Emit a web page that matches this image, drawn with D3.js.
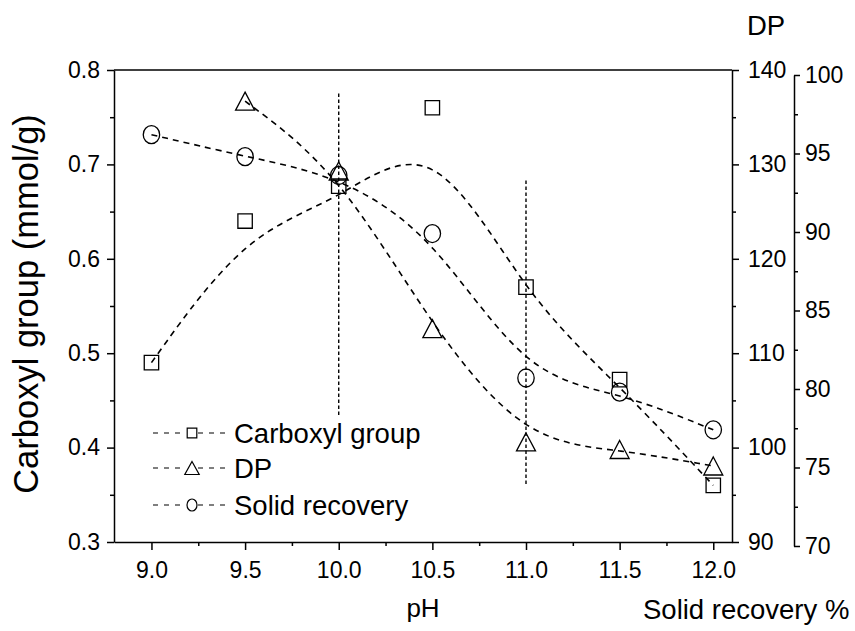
<!DOCTYPE html>
<html>
<head>
<meta charset="utf-8">
<script src="https://cdn.jsdelivr.net/npm/d3@7"></script>
<style>
  body { margin: 0; background: #fff; }
  text { font-family: "Liberation Sans", Arial, sans-serif; fill: #000; }
</style>
</head>
<body>
<div id="chart"></div>
<script>
// data
const pH = [9.0, 9.5, 10.0, 10.5, 11.0, 11.5, 12.0];
const carboxyl = [0.49, 0.64, 0.677, 0.76, 0.57, 0.472, 0.36];   // mmol/g, left axis
const dpPH = [9.5, 10.0, 10.5, 11.0, 11.5, 12.0];
const dp = [136.7, 129.3, 112.6, 100.6, 99.8, 98.05];            // DP, first right axis
const solidRecovery = [96.2, 94.8, 93.6, 89.9, 80.7, 79.8, 77.4]; // %, second right axis

// vertical dashed guide lines (in carboxyl units)
const guideX = [10.0, 11.0];
const guideTop = [0.775, 0.683];
const guideBottom = [0.432, 0.359];

const phTicks = [9.0, 9.5, 10.0, 10.5, 11.0, 11.5, 12.0];
const phMinor = [9.25, 9.75, 10.25, 10.75, 11.25, 11.75];
const carboxylTicks = [0.3, 0.4, 0.5, 0.6, 0.7, 0.8];
const carboxylMinor = [0.35, 0.45, 0.55, 0.65, 0.75];
const dpTicks = [90, 100, 110, 120, 130, 140];
const dpMinor = [95, 105, 115, 125, 135];
const srTicks = [70, 75, 80, 85, 90, 95, 100];
const srMinor = [72.5, 77.5, 82.5, 87.5, 92.5, 97.5];

const legendItems = ["Carboxyl group", "DP", "Solid recovery"];

const width = 855, height = 631;
const plotLeft = 114, plotRight = 732, plotTop = 70, plotBottom = 542;

const svg = d3.select("#chart").append("svg")
    .attr("width", width)
    .attr("height", height);

// scales
const x = d3.scaleLinear().domain([8.8, 12.1]).range([plotLeft, plotRight]);
const yC = d3.scaleLinear().domain([0.3, 0.8]).range([plotBottom, plotTop]);
const yDP = d3.scaleLinear().domain([90, 140]).range([plotBottom, plotTop]);
const ySR = d3.scaleLinear().domain([70, 100]).range([546, 75]);

function styleAxis(g, fs) {
  g.selectAll("path").attr("stroke", "#000").attr("stroke-width", 1.5);
  g.selectAll("line").attr("stroke", "#000").attr("stroke-width", 1.5);
  g.selectAll("text").attr("font-size", fs + "px")
    .attr("font-family", "'Liberation Sans', Arial, sans-serif");
}

// bottom axis
svg.append("g").attr("transform", `translate(0,${plotBottom})`)
  .call(d3.axisBottom(x).tickValues(phTicks).tickFormat(d3.format(".1f"))
        .tickSizeInner(8).tickSizeOuter(0).tickPadding(12))
  .call(g => styleAxis(g, 23));
svg.append("g").attr("transform", `translate(0,${plotBottom})`)
  .call(d3.axisBottom(x).tickValues(phMinor).tickFormat("").tickSize(4))
  .call(g => g.select(".domain").remove())
  .call(g => styleAxis(g, 23));

// top frame line
svg.append("line")
  .attr("x1", plotLeft).attr("x2", plotRight).attr("y1", plotTop).attr("y2", plotTop)
  .attr("stroke", "#000").attr("stroke-width", 1.5);

// left axis
svg.append("g").attr("transform", `translate(${plotLeft},0)`)
  .call(d3.axisLeft(yC).tickValues(carboxylTicks).tickFormat(d3.format(".1f"))
        .tickSizeInner(7).tickSizeOuter(0).tickPadding(7))
  .call(g => styleAxis(g, 23));
svg.append("g").attr("transform", `translate(${plotLeft},0)`)
  .call(d3.axisLeft(yC).tickValues(carboxylMinor).tickFormat("").tickSize(4))
  .call(g => g.select(".domain").remove())
  .call(g => styleAxis(g, 23));

// DP axis
svg.append("g").attr("transform", `translate(${plotRight},0)`)
  .call(d3.axisRight(yDP).tickValues(dpTicks).tickFormat(d3.format("d"))
        .tickSizeInner(7).tickSizeOuter(0).tickPadding(9))
  .call(g => styleAxis(g, 23));
svg.append("g").attr("transform", `translate(${plotRight},0)`)
  .call(d3.axisRight(yDP).tickValues(dpMinor).tickFormat("").tickSize(4))
  .call(g => g.select(".domain").remove())
  .call(g => styleAxis(g, 23));

// solid recovery axis
const srX = 794;
svg.append("g").attr("transform", `translate(${srX},0)`)
  .call(d3.axisRight(ySR).tickValues(srTicks).tickFormat(d3.format("d"))
        .tickSizeInner(6).tickSizeOuter(0).tickPadding(5))
  .call(g => styleAxis(g, 23));
svg.append("g").attr("transform", `translate(${srX},0)`)
  .call(d3.axisRight(ySR).tickValues(srMinor).tickFormat("").tickSize(4))
  .call(g => g.select(".domain").remove())
  .call(g => styleAxis(g, 23));

// axis titles
svg.append("text")
  .attr("transform", "translate(38,304) rotate(-90)")
  .attr("text-anchor", "middle")
  .attr("font-size", "34.5px")
  .text("Carboxyl group (mmol/g)");
svg.append("text").attr("x", 423).attr("y", 617)
  .attr("text-anchor", "middle").attr("font-size", "26px").text("pH");
svg.append("text").attr("x", 643).attr("y", 619)
  .attr("font-size", "27.5px").text("Solid recovery %");
svg.append("text").attr("x", 747).attr("y", 35)
  .attr("font-size", "27.5px").text("DP");

// guide lines
svg.selectAll(".guide")
  .data(guideX)
  .enter().append("line")
  .attr("class", "guide")
  .attr("x1", d => x(d)).attr("x2", d => x(d))
  .attr("y1", (d, i) => yC(guideTop[i]))
  .attr("y2", (d, i) => yC(guideBottom[i]))
  .attr("stroke", "#000").attr("stroke-width", 1.4)
  .attr("stroke-dasharray", "3.5,2.5");

// smoothed dashed curves
function curve(xs, ys, yScale, curveType) {
  const line = d3.line().curve(curveType)
    .x((d, i) => x(xs[i])).y(d => yScale(d));
  svg.append("path").datum(ys)
    .attr("d", line)
    .attr("fill", "none").attr("stroke", "#000")
    .attr("stroke-width", 1.6).attr("stroke-dasharray", "6,5");
}
curve(pH, carboxyl, yC, d3.curveBundle.beta(0.93));
curve(dpPH, dp, yDP, d3.curveBasis);
curve(pH, solidRecovery, ySR, d3.curveBasis);

// marker shapes
function square(s) { return `M${-s},${-s}H${s}V${s}H${-s}Z`; }
function triangle(w, h) { return `M0,${-h}L${w},${h}L${-w},${h}Z`; }
function ellipse(rx, ry) {
  return `M${-rx},0A${rx},${ry} 0 1,0 ${rx},0A${rx},${ry} 0 1,0 ${-rx},0Z`;
}

function markers(xs, ys, yScale, d) {
  svg.append("g").selectAll("path")
    .data(ys).enter().append("path")
    .attr("transform", (v, i) => `translate(${x(xs[i])},${yScale(v)})`)
    .attr("d", d)
    .attr("fill", "none").attr("stroke", "#000").attr("stroke-width", 1.3);
}
markers(pH, carboxyl, yC, square(7.2));
markers(dpPH, dp, yDP, triangle(9.5, 9));
markers(pH, solidRecovery, ySR, ellipse(8.2, 9));

// legend
const legendShapes = [square(4.8), triangle(7.2, 6.5), ellipse(5, 6)];
const lg = svg.append("g").selectAll("g")
  .data(legendItems).enter().append("g")
  .attr("transform", (d, i) => `translate(0,${[433, 468, 505][i]})`);
lg.append("line").attr("x1", 153).attr("x2", 186).attr("y1", 0).attr("y2", 0)
  .attr("stroke", "#000").attr("stroke-width", 1.2).attr("stroke-dasharray", "5,6");
lg.append("line").attr("x1", 198).attr("x2", 229).attr("y1", 0).attr("y2", 0)
  .attr("stroke", "#000").attr("stroke-width", 1.2).attr("stroke-dasharray", "5,6");
lg.append("path").attr("transform", "translate(192,0)")
  .attr("d", (d, i) => legendShapes[i])
  .attr("fill", "#fff").attr("stroke", "#000").attr("stroke-width", 1.2);
lg.append("text").attr("x", 234).attr("dy", "0.35em")
  .attr("font-size", "27.5px").text(d => d);
</script>
</body>
</html>
